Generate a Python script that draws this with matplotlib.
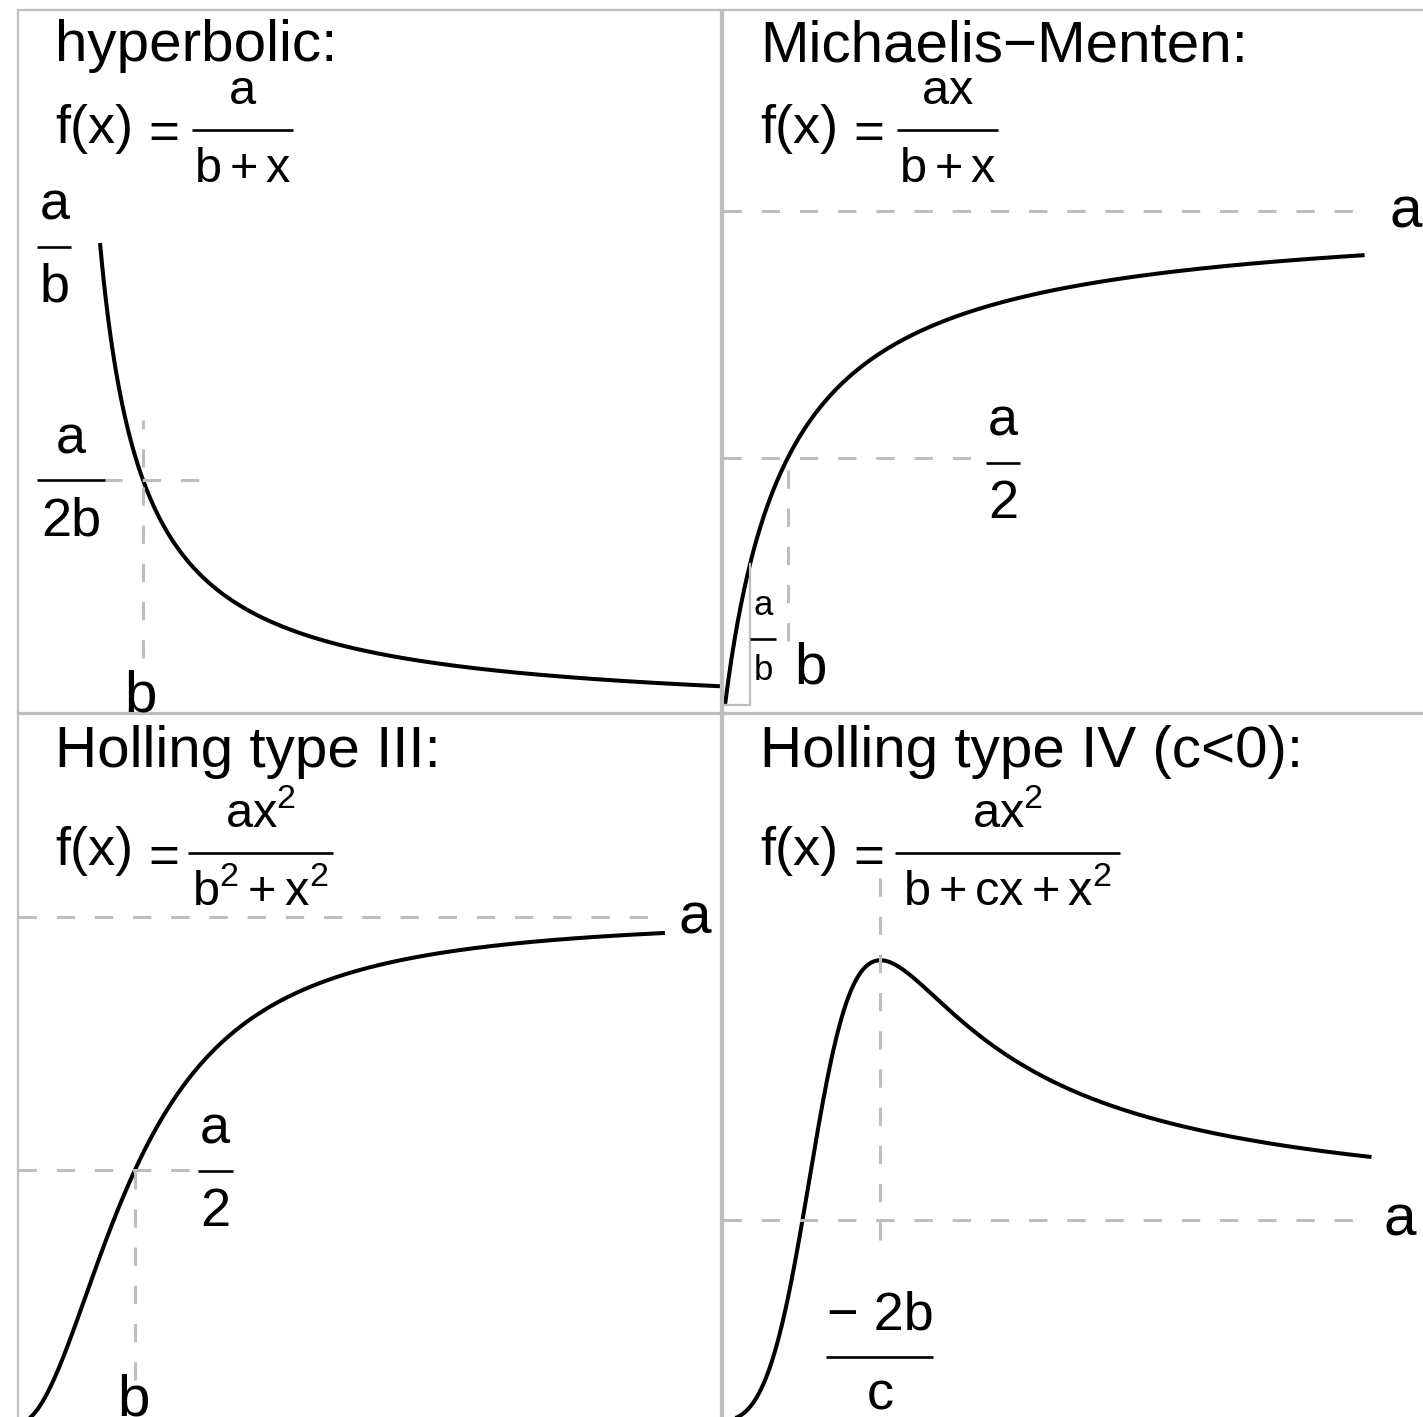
import numpy as np
import matplotlib
matplotlib.use('Agg')
import matplotlib.pyplot as plt
from matplotlib.lines import Line2D

plt.rcParams['font.family'] = ['Liberation Sans', 'DejaVu Sans']
plt.rcParams['mathtext.fontset'] = 'custom'
plt.rcParams['mathtext.rm'] = 'Liberation Sans'
plt.rcParams['mathtext.it'] = 'Liberation Sans'
plt.rcParams['mathtext.sf'] = 'Liberation Sans'
plt.rcParams['mathtext.default'] = 'regular'

# ---------------- data ----------------
panel_titles = ["hyperbolic:", "Michaelis\u2212Menten:", "Holling type III:", "Holling type IV (c<0):"]
numerators = [r'$a$', r'$ax$', r'$ax^2$', r'$ax^2$']
denominators = [r'$b + x$', r'$b + x$', r'$b^2 + x^2$', r'$b + cx + x^2$']

hyp_a, hyp_b, hyp_xmax = 1.0, 1.0, 14.42
mm_a, mm_b, mm_xmax = 1.0, 1.0, 10.2
h3_a, h3_b, h3_xmax = 1.0, 1.0, 5.53
h4_a, h4_b, h4_c, h4_xmax = 1.0, 0.565, -1.13, 4.15
mm_slope_x = 0.40

W, H = 1423, 1417
fig = plt.figure(figsize=(W / 100, H / 100), dpi=100)

GRAY = '#BEBEBE'
DASH = dict(color=GRAY, lw=2.2, dashes=(6.0, 6.5))
CURVE = dict(color='black', lw=2.9, solid_capstyle='butt')


def make_ax(l, r, t, b):
    ax = fig.add_axes([l / W, 1 - b / H, (r - l) / W, (b - t) / H])
    ax.set_xticks([])
    ax.set_yticks([])
    for s in ax.spines.values():
        s.set_color(GRAY)
        s.set_linewidth(1.6)
    return ax


def ptext(x, y, s, size=42, ha='left', va='baseline', **kw):
    fig.text(x / W, 1 - y / H, s, fontsize=size, ha=ha, va=va, **kw)


def pbar(x1, x2, y, lw=1.9):
    fig.add_artist(Line2D([x1 / W, x2 / W], [1 - y / H, 1 - y / H],
                          transform=fig.transFigure, color='black', lw=lw,
                          solid_capstyle='butt'))


def frac(xc, ybar, num, den, x1, x2, size=39, up=27, down=55):
    ptext(xc, ybar - up, num, size=size, ha='center')
    ptext(xc, ybar + down, den, size=size, ha='center')
    pbar(x1, x2, ybar)


def formula(xl, ybase, ybar, xeq, num, den, x1, x2):
    ptext(xl, ybase, 'f(x)', size=39)
    ptext(xeq, ybar, '=', size=38, ha='center', va='center_baseline')
    frac((x1 + x2) / 2, ybar, num, den, x1, x2, size=35, up=26, down=52)


# ---------------- top-left: hyperbolic ----------------
ax = make_ax(18, 721, 10, 713)
ax.set_xlim(-1.907, 14.44)
ax.set_ylim(0.0084, 1.4916)
x = np.linspace(0, hyp_xmax, 600)
ax.plot(x, hyp_a / (hyp_b + x), **CURVE)
ax.plot([0.1, 2.6], [hyp_a / (2 * hyp_b)] * 2, **DASH)
ax.plot([hyp_b, hyp_b], [0.124, 0.627], **DASH)

# ---------------- top-right: Michaelis-Menten ----------------
ax = make_ax(723, 1426, 10, 713)
ax.set_xlim(-0.032, 11.18)
ax.set_ylim(-0.0162, 1.407)
x = np.linspace(0, mm_xmax, 600)
ax.plot(x, mm_a * x / (mm_b + x), **CURVE)
ax.plot([-0.032, 10.29], [mm_a] * 2, **DASH)
ax.plot([-0.032, 4.23], [mm_a / 2] * 2, **DASH)
ax.plot([mm_b, mm_b], [0.13, mm_a / 2], **DASH)
fx1 = mm_a * mm_slope_x / (mm_b + mm_slope_x)
ax.plot([0, mm_slope_x, mm_slope_x], [0, 0, fx1], color=GRAY, lw=1.6)

# ---------------- bottom-left: Holling III ----------------
ax = make_ax(18, 721, 714, 1419)
ax.set_xlim(0, 6.01)
ax.set_ylim(0.0079, 1.401)
x = np.linspace(0, h3_xmax, 600)
ax.plot(x, h3_a * x ** 2 / (h3_b ** 2 + x ** 2), **CURVE)
ax.plot([0, h3_xmax], [h3_a] * 2, **DASH)
ax.plot([0, 1.47], [h3_a / 2] * 2, **DASH)
ax.plot([h3_b, h3_b], [0.085, h3_a / 2], **DASH)

# ---------------- bottom-right: Holling IV ----------------
ax = make_ax(723, 1426, 714, 1419)
ax.set_xlim(-0.01, 4.50)
ax.set_ylim(0.005, 3.53)
x = np.linspace(0, h4_xmax, 600)
ax.plot(x, h4_a * x ** 2 / (h4_b + h4_c * x + x ** 2), **CURVE)
ax.plot([-0.01, h4_xmax], [h4_a] * 2, **DASH)
peak = -2 * h4_b / h4_c
ax.plot([peak, peak], [0.9, 2.8], **DASH)

# ---------------- text ----------------
ptext(55, 61, panel_titles[0])
ptext(760, 61, panel_titles[1])
ptext(55, 767, panel_titles[2])
ptext(760, 767, panel_titles[3])

formula(55, 143, 130, 164, numerators[0], denominators[0], 192, 293)
formula(760, 143, 130, 869, numerators[1], denominators[1], 897, 998)
formula(55, 865, 853, 164, numerators[2], denominators[2], 188, 333)
formula(760, 865, 853, 869, numerators[3], denominators[3], 895, 1120)

frac(55, 247, 'a', 'b', 37, 71)
frac(71, 480, 'a', '2b', 37, 105)
ptext(141, 711, 'b', ha='center')

ptext(1406, 228, 'a', ha='center')
frac(1003, 463, 'a', '2', 986, 1020)
frac(763, 639, 'a', 'b', 750, 776, size=25, up=24, down=41)
ptext(811, 683, 'b', ha='center')

ptext(695, 933, 'a', ha='center')
frac(215, 1171, 'a', '2', 198, 233)
ptext(134, 1415, 'b', ha='center')

ptext(1400, 1236, 'a', ha='center')
frac(880, 1357, '\u2212 2b', 'c', 826, 933, up=27, down=53)

fig.savefig('out.png', dpi=100)
